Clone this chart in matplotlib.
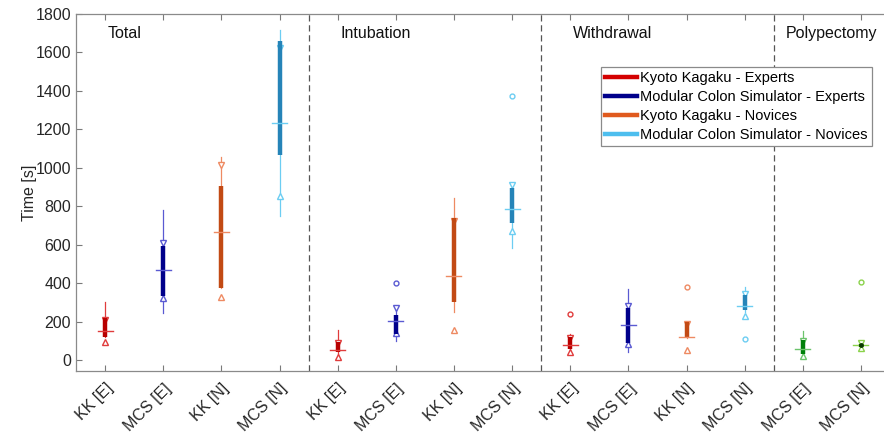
import matplotlib
matplotlib.use("Agg")
import matplotlib.pyplot as plt
from matplotlib.lines import Line2D

plt.rcParams["font.family"] = ["Liberation Sans", "DejaVu Sans"]

# categories, left to right
tick_labels = ["KK [E]", "MCS [E]", "KK [N]", "MCS [N]",
               "KK [E]", "MCS [E]", "KK [N]", "MCS [N]",
               "KK [E]", "MCS [E]", "KK [N]", "MCS [N]",
               "MCS [E]", "MCS [N]"]
groups = ["Total", "Intubation", "Withdrawal", "Polypectomy"]
group_sizes = [4, 4, 4, 2]
box_kind = ["kke", "mcse", "kkn", "mcsn",
            "kke", "mcse", "kkn", "mcsn",
            "kke", "mcse", "kkn", "mcsn",
            "poly_e", "poly_n"]

# box statistics in seconds
whisker_lo = [120, 247, 374, 751, 30, 101, 252, 583, 45, 43, 118, 250, 20, 66]
q1 = [120, 334, 374, 1069, 43, 136, 304, 716, 61, 90, 118, 261, 35, 72]
median = [152, 470, 669, 1235, 52, 205, 440, 788, 78, 183, 122, 282, 57, 78]
q3 = [222, 595, 908, 1661, 95, 235, 739, 896, 122, 273, 200, 339, 104, 85]
whisker_hi = [303, 779, 1055, 1718, 156, 262, 843, 913, 136, 369, 200, 379, 153, 90]
notch_lo = [95, 325, 330, 852, 17, 140, 156, 673, 43, 87, 56, 230, 22, 66]
notch_hi = [210, 612, 1013, 1621, 90, 270, 725, 913, 115, 282, 190, 343, 100, 90]
outliers = [[], [], [], [], [], [403], [], [1373], [240], [], [382], [110], [], [410]]

legend_labels = ["Kyoto Kagaku - Experts", "Modular Colon Simulator - Experts",
                 "Kyoto Kagaku - Novices", "Modular Colon Simulator - Novices"]

# (box colour, whisker/marker colour)
styles = {
    "kke": ("#B80000", "#E03C3C"),
    "mcse": ("#00008B", "#5A5AD2"),
    "kkn": ("#C24A14", "#EE8A62"),
    "mcsn": ("#2584B8", "#6CCDF2"),
    "poly_e": ("#00800A", "#6CC46C"),
    "poly_n": ("#1E7A00", "#8AD24A"),
}
legend_colors = ["#D40000", "#00008B", "#E05A1E", "#4DBEEE"]

fig = plt.figure(figsize=(8.84, 4.36), dpi=100)
ax = fig.add_axes([76 / 884, 1 - 371 / 436, 814 / 884, 357 / 436])

half = 0.13
for i, kind in enumerate(box_kind):
    x = i + 1
    dark, light = styles[kind]
    ax.plot([x, x], [whisker_lo[i], whisker_hi[i]], color=light, lw=0.9, zorder=2)
    ax.plot([x], [notch_lo[i]], marker="^", ms=4.5, mfc="white", mec=light, mew=1.0,
            ls="none", zorder=3)
    ax.plot([x], [notch_hi[i]], marker="v", ms=4.5, mfc="white", mec=light, mew=1.0,
            ls="none", zorder=3)
    ax.plot([x, x], [q1[i], q3[i]], color=dark, lw=3.2, solid_capstyle="butt", zorder=4)
    ax.plot([x - half, x + half], [median[i], median[i]], color=light, lw=1.0, zorder=5)
    if outliers[i]:
        ax.plot([x] * len(outliers[i]), outliers[i], marker="o", ms=3.5, mfc="none",
                mec=light, mew=1.0, ls="none", zorder=5)
    if kind == "poly_n":
        ax.plot([x], [median[i]], marker="o", ms=2.5, color="#0A3A00", zorder=6)

# group separators and titles
title_offsets = [0.55, 0.55, 0.55, 0.2]
edge = 0.5
for gi, (name, size) in enumerate(zip(groups, group_sizes)):
    ax.text(edge + title_offsets[gi], 1700, name, fontsize=11.5, color="#111111", va="center")
    edge += size
    if gi < len(groups) - 1:
        ax.axvline(edge, color="#555555", lw=0.9, ls=(0, (5, 3)), zorder=1)

ax.set_xlim(0.5, len(tick_labels) + 0.5)
ax.set_ylim(-55, 1800)
ax.set_yticks(range(0, 1801, 200))
ax.set_xticks(range(1, len(tick_labels) + 1))
ax.set_xticklabels(tick_labels, rotation=45, ha="right", va="top",
                   rotation_mode="anchor", fontsize=11.5, color="#262626")
ax.tick_params(axis="y", labelsize=11.5, labelcolor="#262626")
ax.tick_params(direction="in", length=4, color="#7a7a7a", top=True, right=True)
ax.tick_params(axis="x", pad=7)
for s in ax.spines.values():
    s.set_color("#8a8a8a")
    s.set_linewidth(0.9)
ax.set_ylabel("Time [s]", fontsize=11.5, color="#262626", labelpad=-1)

handles = [Line2D([0], [0], color=c, lw=3.2) for c in legend_colors]
leg = ax.legend(handles, legend_labels, loc="upper left", bbox_to_anchor=(0.645, 0.852),
                fontsize=10.5, handlelength=2.2, handletextpad=0.15, labelspacing=0.33,
                borderpad=0.3, borderaxespad=0, fancybox=False, framealpha=1)
leg.get_frame().set_edgecolor("#8a8a8a")
leg.get_frame().set_linewidth(0.9)

fig.savefig("out.png", dpi=100)
